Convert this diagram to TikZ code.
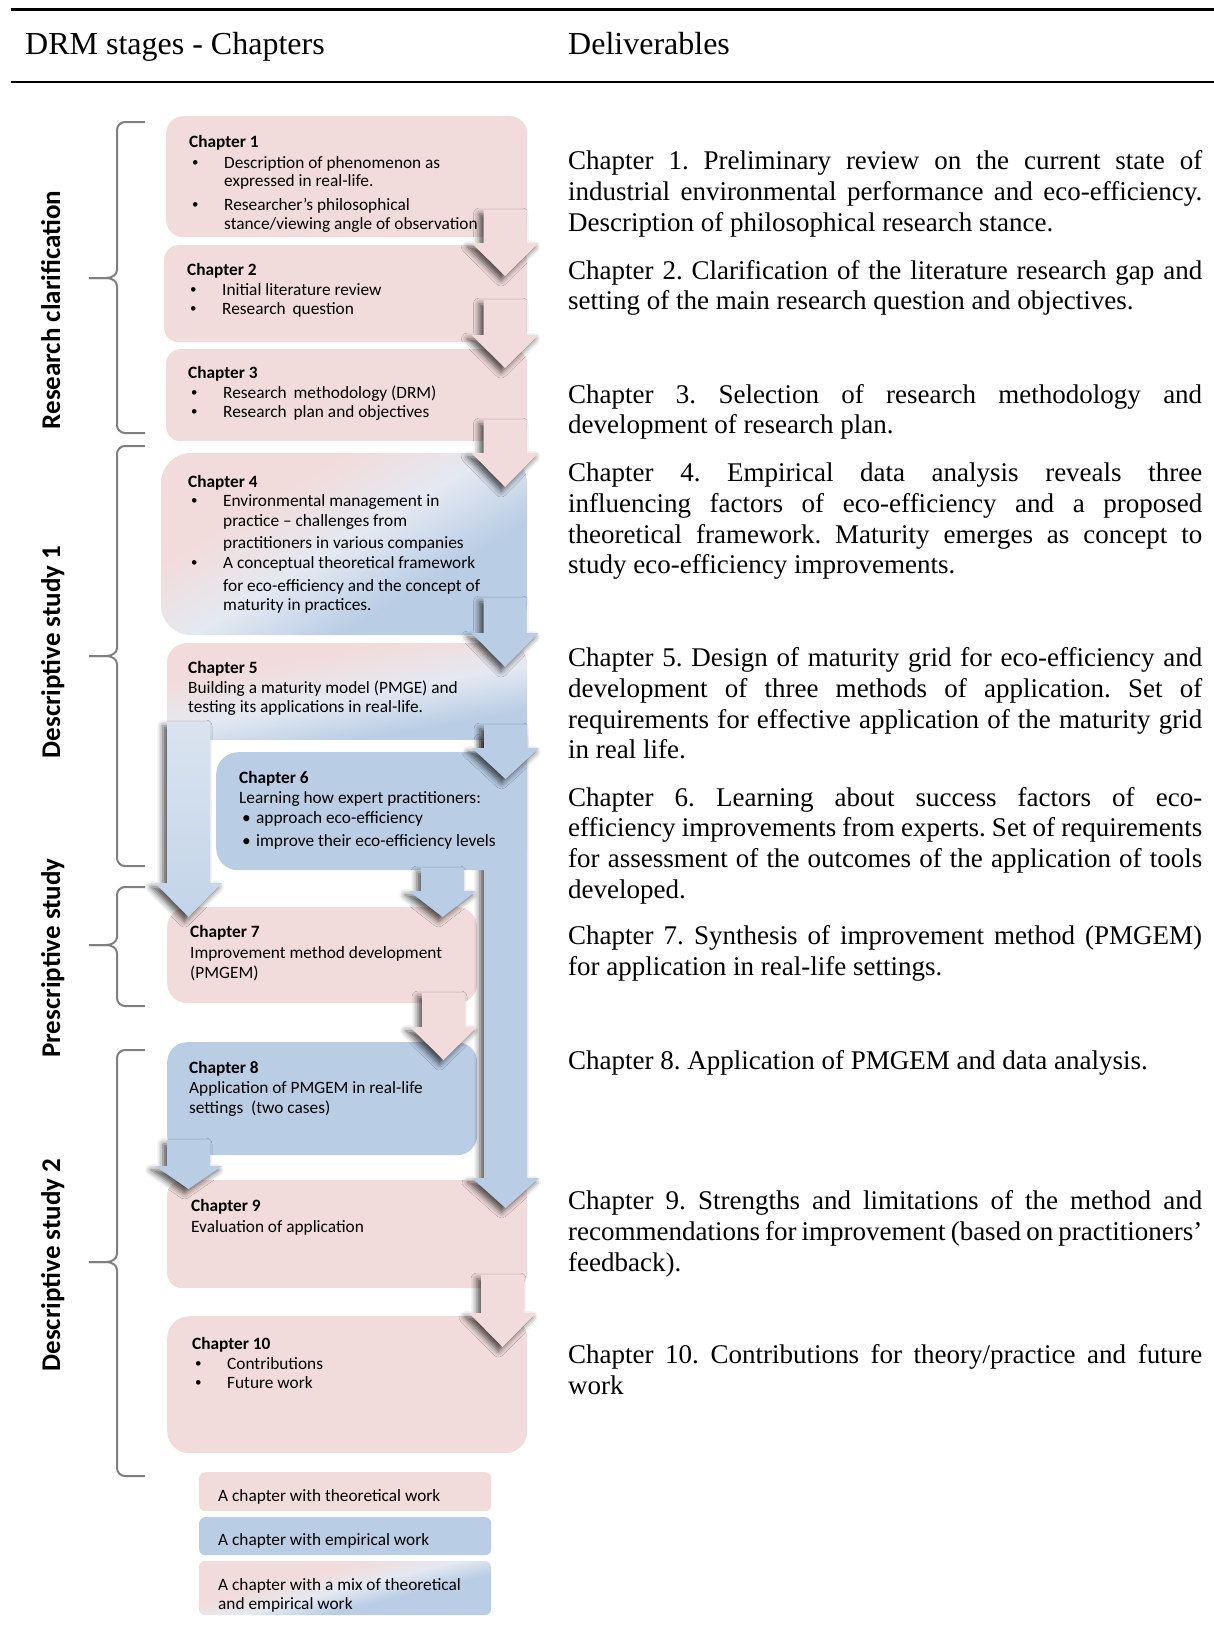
\documentclass[tikz,border=0pt]{standalone}
\usepackage{fontspec}
\setmainfont{Liberation Serif}
\newfontfamily\calib{Carlito}
\usetikzlibrary{shadows.blur}

\definecolor{pinkc}{HTML}{F2DCDB}
\definecolor{bluec}{HTML}{B9CDE5}
\definecolor{midc}{HTML}{E4E9F2}
\definecolor{paleblue}{HTML}{DAE4F0}
\definecolor{deepblue}{HTML}{C3D4E9}
\definecolor{bracec}{HTML}{7F7F7F}

\hyphenpenalty=10000
\exhyphenpenalty=10000
\hbadness=10000
\hfuzz=30pt
\frenchspacing

% pink-to-blue blends for chapters mixing theory and empirical work
\pgfdeclareverticalshading{mixwide}{100bp}{color(0bp)=(bluec); color(41bp)=(bluec);
  color(50bp)=(midc); color(59bp)=(pinkc); color(100bp)=(pinkc)}
\pgfdeclareverticalshading{mixmid}{100bp}{color(0bp)=(bluec); color(44bp)=(bluec);
  color(50bp)=(midc); color(56bp)=(pinkc); color(100bp)=(pinkc)}
\pgfdeclareverticalshading{mixnarrow}{100bp}{color(0bp)=(bluec); color(46.5bp)=(bluec);
  color(50bp)=(midc); color(53.5bp)=(pinkc); color(100bp)=(pinkc)}

% block arrow pointing down: style, centre x, shaft top, head top, tip
\newcommand\blockdown[5]{%
  \path[#1] (#2-21.5,#3) -- (#2+21.5,#3) -- (#2+21.5,#4) -- (#2+33.5,#4)
    -- (#2,#5) -- (#2-33.5,#4) -- (#2-21.5,#4) -- cycle;}

% curly brace opening to the right: top, tip, bottom
\newcommand\stagebrace[3]{%
  \draw[bracestyle] (145,#1) -- (125,#1) to[out=180,in=90] (117,#1+8)
    -- (117,#2-8) to[out=-90,in=0] (106,#2) -- (89,#2);
  \draw[bracestyle] (89,#2) -- (106,#2) to[out=0,in=90] (117,#2+8)
    -- (117,#3-8) to[out=-90,in=180] (125,#3) -- (145,#3);}

% small list bullet
\newcommand\sbul{{\fontsize{13}{13}\selectfont\raisebox{1.2pt}{•}}}

\tikzset{
  rule/.style={line width=2.2pt, black},
  bracestyle/.style={line width=2pt, bracec},
  hdr/.style={anchor=base west, inner sep=0pt, font=\fontsize{32}{36}\selectfont},
  deliv/.style={anchor=base west, inner sep=0pt, text width=634pt, align=justify,
    font=\fontsize{27}{30.8}\selectfont},
  stagelabel/.style={anchor=base, rotate=90, inner sep=0pt,
    font=\calib\bfseries\fontsize{27}{30}\selectfont},
  chtxt/.style={anchor=base west, inner sep=0pt, font=\calib\fontsize{17.3}{20}\selectfont},
  chtitle/.style={chtxt, font=\calib\bfseries\fontsize{17.3}{20}\selectfont},
  chbox/.style={anchor=north west, inner sep=0pt, draw=none},
  arrowshadow/.style={blur shadow={shadow xshift=-4pt, shadow yshift=-4pt,
    shadow blur radius=6pt, shadow opacity=68}},
  pinkarrow/.style={fill=pinkc, arrowshadow},
  bluearrow/.style={fill=bluec, arrowshadow},
  palearrow/.style={top color=paleblue, bottom color=deepblue, arrowshadow},
}

\begin{document}
\begin{tikzpicture}[x=1pt, y=-1pt]
\useasboundingbox (0,0) rectangle (1214,1647);

% ---------- header ----------
\draw[rule] (10.5,9.5) -- (1214,9.5);
\draw[rule] (10.5,82) -- (1214,82);
\node[hdr] (hleft) at (25,54) {DRM stages - Chapters};
\node[hdr] (hright) at (568,54) {Deliverables};

% ---------- stages ----------
\stagebrace{122}{278}{433}
\stagebrace{446}{656}{866}
\stagebrace{887}{945}{1006}
\stagebrace{1050}{1262}{1476}
\node[stagelabel] (s1) at (60,310) {Research clarification};
\node[stagelabel] (s2) at (60,652) {Descriptive study 1};
\node[stagelabel] (s3) at (60,958) {Prescriptive study};
\node[stagelabel] (s4) at (60,1265) {Descriptive study 2};

% ---------- chapter boxes ----------
\node[chbox, fill=pinkc, rounded corners=17, minimum width=361pt, minimum height=121pt] (ch1) at (166,116) {};
\node[chbox, fill=pinkc, rounded corners=14, minimum width=363pt, minimum height=97pt] (ch2) at (164,245) {};
\node[chbox, fill=pinkc, rounded corners=14, minimum width=361pt, minimum height=92pt] (ch3) at (166,349) {};
% chapter 4: theory blending into empirical work
\begin{scope}
  \clip[rounded corners=30] (161,453) rectangle (527,635);
  \shade[shading=mixwide, shading angle=31] (134,334) rectangle (554,754);
\end{scope}
% chapter 5: top part of the frame around chapter 6
\begin{scope}
  \clip (150,630) rectangle (540,739);
  \clip[rounded corners=20] (167,643) rectangle (527,780);
  \shade[shading=mixmid, shading angle=10] (162,512) rectangle (532,882);
\end{scope}
\node[chbox, fill=pinkc, rounded corners=20, minimum width=310pt, minimum height=96pt] (ch7) at (167,907) {};
\node[chbox, fill=bluec, rounded corners=20, minimum width=310pt, minimum height=113pt] (ch8) at (167,1042) {};
\node[chbox, fill=pinkc, rounded corners=15, minimum width=360pt, minimum height=108pt] (ch9) at (167,1180) {};
\node[chbox, fill=pinkc, rounded corners=22, minimum width=360pt, minimum height=137pt] (ch10) at (167,1316) {};

% ---------- legend ----------
\node[chbox, fill=pinkc, rounded corners=6, minimum width=292pt, minimum height=39pt] (lg1) at (199,1472) {};
\node[chbox, fill=bluec, rounded corners=6, minimum width=292pt, minimum height=38pt] (lg2) at (199,1517) {};
\begin{scope}
  \clip[rounded corners=6] (199,1561) rectangle (491,1615);
  \shade[shading=mixnarrow, shading angle=14] (199,1438) rectangle (499,1738);
\end{scope}

% ---------- long arrow from chapter 5 to chapter 9 ----------
\blockdown{bluearrow}{505.5}{736}{1178}{1208}

% chapter 6 box sits on the long arrow
\node[chbox, fill=bluec, rounded corners=22, minimum width=311pt, minimum height=118pt] (ch6) at (216,752) {};

% ---------- flow arrows ----------
\blockdown{pinkarrow}{505}{210}{243}{276}
\blockdown{pinkarrow}{505}{300}{335}{368}
\blockdown{pinkarrow}{505}{420}{453}{487}
\blockdown{bluearrow}{505}{598}{633}{667}
\blockdown{bluearrow}{505.5}{725}{748}{779}
\blockdown{palearrow}{188.5}{722}{883}{917}
\blockdown{bluearrow}{442.5}{868}{891}{917}
\blockdown{pinkarrow}{443.5}{993}{1027}{1060}
\blockdown{bluearrow}{188.5}{1140}{1166}{1189}
\blockdown{pinkarrow}{502.5}{1275}{1313}{1347}

% ---------- chapter texts ----------
\node[chtitle] (c1t) at (189,147) {Chapter 1};
\node[chtxt] (c1b1) at (192,168) {\sbul};
\node[chtxt] (c1l1) at (224,168) {Description of phenomenon as};
\node[chtxt] (c1l2) at (224,186) {expressed in real-life.};
\node[chtxt] (c1b2) at (192,210) {\sbul};
\node[chtxt] (c1l3) at (224,210) {Researcher’s philosophical};
\node[chtxt] (c1l4) at (224,229) {stance/viewing angle of observation};

\node[chtitle] (c2t) at (187,275) {Chapter 2};
\node[chtxt] (c2b1) at (190,295) {\sbul};
\node[chtxt] (c2l1) at (222,295) {Initial literature review};
\node[chtxt] (c2b2) at (190,314) {\sbul};
\node[chtxt] (c2l2) at (222,314) {Research\hspace{3pt} question};

\node[chtitle] (c3t) at (188,378) {Chapter 3};
\node[chtxt] (c3b1) at (191,398) {\sbul};
\node[chtxt] (c3l1) at (223,398) {Research\hspace{3pt} methodology (DRM)};
\node[chtxt] (c3b2) at (191,417) {\sbul};
\node[chtxt] (c3l2) at (223,417) {Research\hspace{3pt} plan and objectives};

\node[chtitle] (c4t) at (188,487) {Chapter 4};
\node[chtxt] (c4b1) at (191,506) {\sbul};
\node[chtxt] (c4l1) at (223,506) {Environmental management in};
\node[chtxt] (c4l2) at (223,526) {practice – challenges from};
\node[chtxt] (c4l3) at (223,548) {practitioners in various companies};
\node[chtxt] (c4b2) at (191,568) {\sbul};
\node[chtxt] (c4l4) at (223,568) {A conceptual theoretical framework};
\node[chtxt] (c4l5) at (223,591) {for eco-efficiency and the concept of};
\node[chtxt] (c4l6) at (223,610) {maturity in practices.};

\node[chtitle] (c5t) at (188,673) {Chapter 5};
\node[chtxt] (c5l1) at (188,693) {Building a maturity model (PMGE) and};
\node[chtxt] (c5l2) at (188,712) {testing its applications in real-life.};

\node[chtitle] (c6t) at (239,783) {Chapter 6};
\node[chtxt] (c6l1) at (239,803) {Learning how expert practitioners:};
\node[chtxt] (c6b1) at (242,823) {•};
\node[chtxt] (c6l2) at (256,823) {approach eco-efficiency};
\node[chtxt] (c6b2) at (242,846) {•};
\node[chtxt] (c6l3) at (256,846) {improve their eco-efficiency levels};

\node[chtitle] (c7t) at (190,937) {Chapter 7};
\node[chtxt] (c7l1) at (190,958) {Improvement method development};
\node[chtxt] (c7l2) at (190,978) {(PMGEM)};

\node[chtitle] (c8t) at (189,1073) {Chapter 8};
\node[chtxt] (c8l1) at (189,1093) {Application of PMGEM in real-life};
\node[chtxt] (c8l2) at (189,1113) {settings\hspace{4pt} (two cases)};

\node[chtitle] (c9t) at (191,1211) {Chapter 9};
\node[chtxt] (c9l1) at (191,1232) {Evaluation of application};

\node[chtitle] (c10t) at (192,1349) {Chapter 10};
\node[chtxt] (c10b1) at (195,1369) {\sbul};
\node[chtxt] (c10l1) at (227,1369) {Contributions};
\node[chtxt] (c10b2) at (195,1388) {\sbul};
\node[chtxt] (c10l2) at (227,1388) {Future work};

\node[chtxt] (lt1) at (218,1501) {A chapter with theoretical work};
\node[chtxt] (lt2) at (218,1545) {A chapter with empirical work};
\node[chtxt] (lt3) at (218,1590) {A chapter with a mix of theoretical};
\node[chtxt] (lt4) at (218,1609) {and empirical work};

% ---------- deliverables ----------
\node[deliv] (d1) at (568,169.5) {Chapter 1. Preliminary review on the current state of\linebreak
  industrial environmental performance and eco-efficiency.\linebreak
  Description of philosophical research stance.};
\node[deliv] (d2) at (568,279) {Chapter 2. Clarification of the literature research gap and\linebreak
  setting of the main research question and objectives.};
\node[deliv] (d3) at (568,403) {Chapter 3. Selection of research methodology and\linebreak
  development of research plan.};
\node[deliv] (d4) at (568,481.5) {Chapter 4. Empirical data analysis reveals three\linebreak
  influencing factors of eco-efficiency and a proposed\linebreak
  theoretical framework. Maturity emerges as concept to\linebreak
  study eco-efficiency improvements.};
\node[deliv] (d5) at (568,666.5) {Chapter 5. Design of maturity grid for eco-efficiency and\linebreak
  development of three methods of application. Set of\linebreak
  requirements for effective application of the maturity grid\linebreak
  in real life.};
\node[deliv] (d6) at (568,806) {Chapter 6. Learning about success factors of eco-\linebreak
  efficiency improvements from experts. Set of requirements\linebreak
  for assessment of the outcomes of the application of tools\linebreak
  developed.};
\node[deliv] (d7) at (568,944.5) {Chapter 7. Synthesis of improvement method (PMGEM)\linebreak
  for application in real-life settings.};
\node[deliv] (d8) at (568,1069.5) {Chapter 8. Application of PMGEM and data analysis.};
\node[deliv] (d9) at (568,1209.5) {Chapter 9. Strengths and limitations of the method and\linebreak
  recommendations for improvement (based on practitioners'\linebreak
  feedback).};
\node[deliv] (d10) at (568,1363.5) {Chapter 10. Contributions for theory/practice and future\linebreak
  work};
\end{tikzpicture}
\end{document}
